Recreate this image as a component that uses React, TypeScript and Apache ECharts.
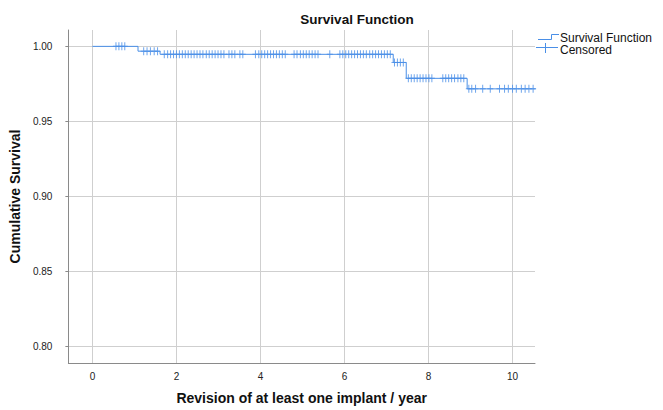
import React, { useEffect, useRef } from "react";
import * as echarts from "echarts";

// Kaplan-Meier step function: event times (years) and survival after each event
const eventTimes = [0, 1.085, 1.61, 7.16, 7.47, 8.92];
const survivalLevels = [1.0, 0.9968, 0.9947, 0.9893, 0.9787, 0.9717];
const followUpEnd = 10.55;

// Censored observation times (years)
const censoredTimes = [
  0.56, 0.63, 0.7, 0.77,
  1.22, 1.3, 1.38, 1.47, 1.55,
  1.71, 1.79, 1.86, 1.93, 2.0, 2.07, 2.14, 2.21, 2.28, 2.35, 2.42, 2.49, 2.56, 2.63,
  2.71, 2.78, 2.85, 2.92, 2.99, 3.06, 3.13, 3.25, 3.32, 3.39, 3.51, 3.58,
  3.88, 3.96, 4.03, 4.1, 4.17, 4.24, 4.31, 4.38, 4.45, 4.52, 4.59,
  4.8, 4.87, 4.95, 5.02, 5.09, 5.16, 5.23, 5.3, 5.37, 5.65,
  5.89, 5.96, 6.03, 6.1, 6.17, 6.24, 6.31, 6.38, 6.45, 6.52, 6.6, 6.67, 6.74, 6.81,
  6.88, 6.95, 7.02, 7.09,
  7.19, 7.26, 7.33, 7.4,
  7.52, 7.59, 7.66, 7.73, 7.8, 7.87, 7.94, 8.01, 8.08,
  8.34, 8.41, 8.48, 8.55, 8.62, 8.7, 8.77, 8.84,
  8.96, 9.03, 9.12, 9.29, 9.47, 9.69, 9.81, 9.9, 10.0, 10.09, 10.21, 10.3, 10.39, 10.49,
];

const xTicks = [0, 2, 4, 6, 8, 10];
const yTicks = [0.8, 0.85, 0.9, 0.95, 1.0];
const xRange = [-0.573, 10.535];
const yRange = [0.7891, 1.0109];

const BLUE = "#4a8fe7";
const FONT = "'Liberation Sans', Arial, sans-serif";
const PLUS = "path://M2.5,0H3.5V8H2.5Z M0,3.5H6V4.5H0Z";

function survivalAt(t: number): number {
  let s = survivalLevels[0];
  for (let i = 0; i < eventTimes.length; i++) {
    if (eventTimes[i] <= t) s = survivalLevels[i];
  }
  return s;
}

export default function App() {
  const ref = useRef<HTMLDivElement>(null);

  useEffect(() => {
    if (!ref.current) return;
    const chart = echarts.init(ref.current, undefined, { renderer: "svg" });

    const lineData: number[][] = eventTimes.map((t, i) => [t, survivalLevels[i]]);
    lineData.push([followUpEnd, survivalLevels[survivalLevels.length - 1]]);
    const censorData = censoredTimes.map((t) => [t, survivalAt(t)]);

    chart.setOption({
      animation: false,
      backgroundColor: "#ffffff",
      textStyle: { fontFamily: FONT },
      grid: { left: 64, right: 128, top: 30, bottom: 40 },
      xAxis: {
        type: "value",
        min: xRange[0],
        max: xRange[1],
        name: "Revision of at least one implant / year",
        nameLocation: "middle",
        nameGap: 28,
        nameTextStyle: { fontFamily: FONT, fontSize: 14, fontWeight: "bold", color: "#111" },
        axisLine: { show: true, onZero: false, lineStyle: { color: "#8a8a8a", width: 1 } },
        axisTick: { show: false, customValues: xTicks },
        axisLabel: {
          customValues: xTicks,
          margin: 8,
          fontSize: 10,
          color: "#222",
          fontFamily: FONT,
          formatter: (v: number) => String(Math.round(v)),
        },
        splitLine: { show: true, lineStyle: { color: "#cfcfcf", width: 1 } },
      },
      yAxis: {
        type: "value",
        min: yRange[0],
        max: yRange[1],
        name: "Cumulative Survival",
        nameLocation: "middle",
        nameGap: 32,
        nameTextStyle: { fontFamily: FONT, fontSize: 14, fontWeight: "bold", color: "#111" },
        axisLine: { show: true, onZero: false, lineStyle: { color: "#8a8a8a", width: 1 } },
        axisTick: { show: true, length: 3, customValues: yTicks, lineStyle: { color: "#8a8a8a" } },
        axisLabel: {
          customValues: yTicks,
          margin: 16,
          fontSize: 10,
          color: "#222",
          fontFamily: FONT,
          formatter: (v: number) => v.toFixed(2),
        },
        splitLine: { show: true, lineStyle: { color: "#cfcfcf", width: 1 } },
      },
      series: [
        {
          name: "Survival Function",
          type: "line",
          step: "end",
          data: lineData,
          showSymbol: false,
          symbol: "none",
          lineStyle: { color: BLUE, width: 1 },
          z: 3,
        },
        {
          name: "Censored",
          type: "scatter",
          data: censorData,
          symbol: PLUS,
          symbolSize: [6, 8],
          itemStyle: { color: BLUE },
          z: 4,
        },
      ],
      graphic: [
        {
          type: "text",
          x: 357,
          y: 19,
          style: {
            text: "Survival Function",
            fontFamily: FONT,
            fontSize: 13.5,
            fontWeight: "bold",
            fill: "#111",
            align: "center",
            verticalAlign: "middle",
          },
        },
        {
          type: "polyline",
          shape: { points: [[538, 39.5], [551.5, 39.5], [551.5, 34.5], [559, 34.5]] },
          style: { stroke: BLUE, lineWidth: 1, fill: "none" },
        },
        {
          type: "text",
          x: 560,
          y: 37.5,
          style: {
            text: "Survival Function",
            fontFamily: FONT,
            fontSize: 12,
            fill: "#111",
            align: "left",
            verticalAlign: "middle",
          },
        },
        {
          type: "line",
          shape: { x1: 536, y1: 47.5, x2: 558, y2: 47.5 },
          style: { stroke: BLUE, lineWidth: 1 },
        },
        {
          type: "line",
          shape: { x1: 545.5, y1: 43, x2: 545.5, y2: 53 },
          style: { stroke: BLUE, lineWidth: 1 },
        },
        {
          type: "text",
          x: 560,
          y: 50,
          style: {
            text: "Censored",
            fontFamily: FONT,
            fontSize: 12,
            fill: "#111",
            align: "left",
            verticalAlign: "middle",
          },
        },
      ],
    });

    return () => chart.dispose();
  }, []);

  return <div ref={ref} style={{ width: 663, height: 410, position: "absolute", left: 0, top: 0 }} />;
}
